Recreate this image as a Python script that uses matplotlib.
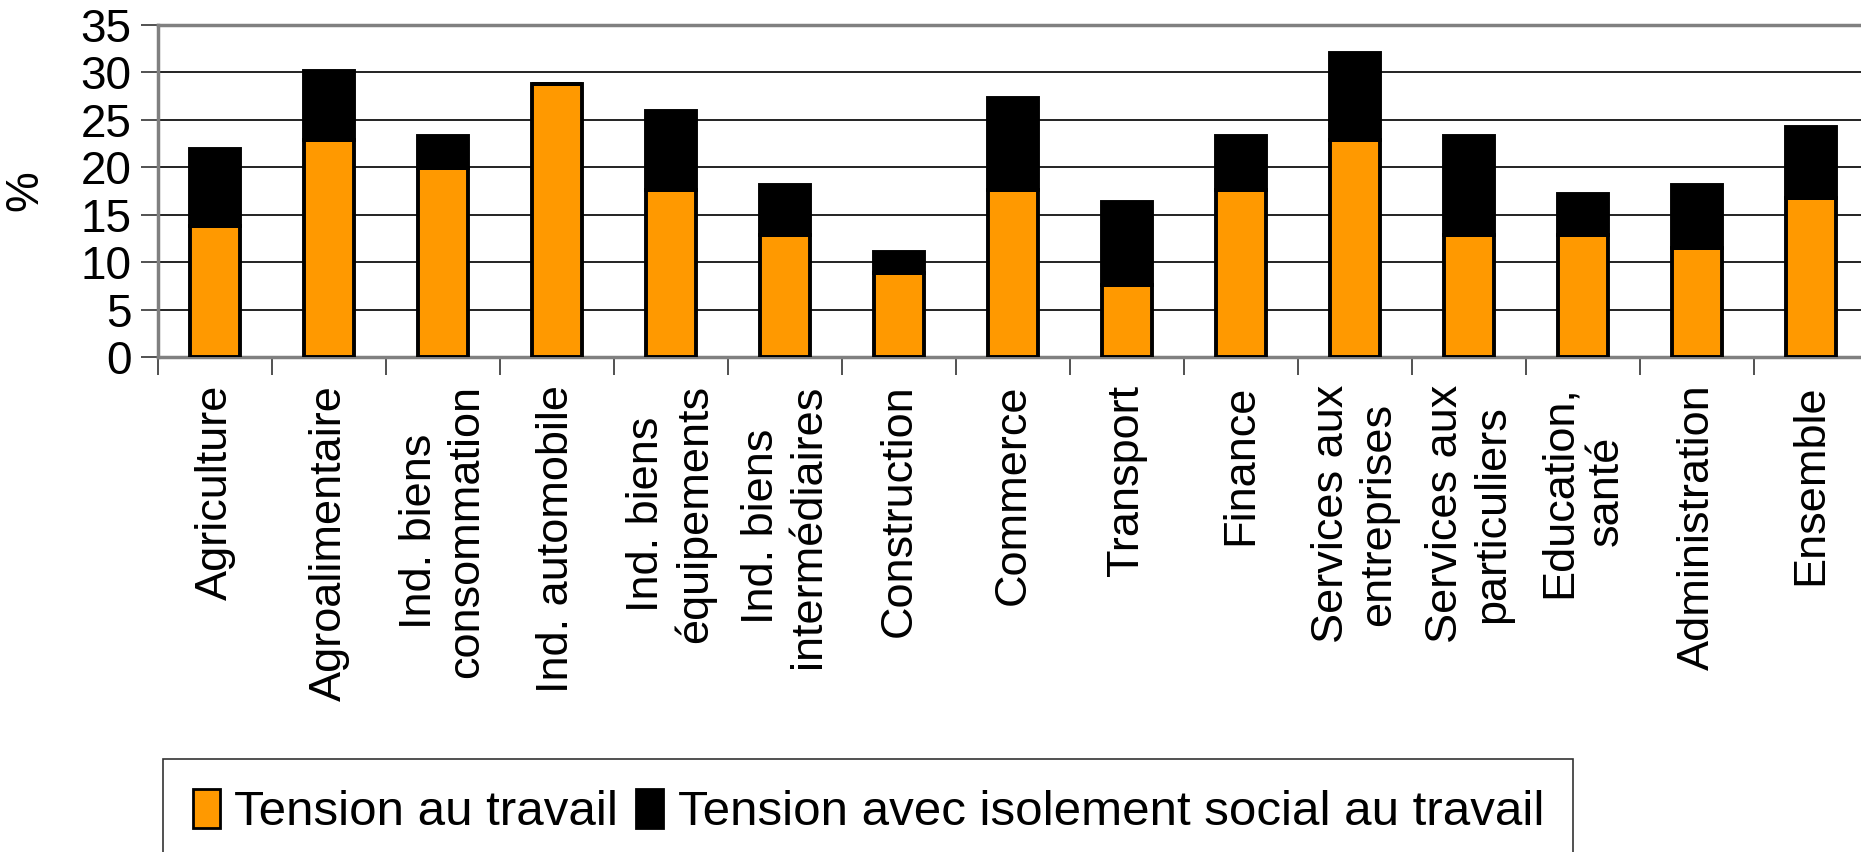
import matplotlib
matplotlib.use("Agg")
import matplotlib.pyplot as plt
from matplotlib.patches import Patch
import numpy as np

categories = ["Agriculture", "Agroalimentaire", "Ind. biens\nconsommation", "Ind. automobile",
              "Ind. biens\néquipements", "Ind. biens\nintermédiaires", "Construction", "Commerce",
              "Transport", "Finance", "Services aux\nentreprises", "Services aux\nparticuliers",
              "Education,\nsanté", "Administration", "Ensemble"]
tension = [13.8, 22.9, 19.9, 28.8, 17.6, 12.9, 8.9, 17.6, 7.6, 17.6, 22.9, 12.9, 12.9, 11.5, 16.8]
isolement = [8.1, 7.3, 3.4, 0.0, 8.3, 5.2, 2.2, 9.7, 8.7, 5.7, 9.1, 10.4, 4.3, 6.6, 7.4]
yticks = [0, 5, 10, 15, 20, 25, 30, 35]
series_names = ["Tension au travail", "Tension avec isolement social au travail"]

plt.rcParams['font.family'] = ['Liberation Sans', 'DejaVu Sans']

W, H = 1861, 852
fig = plt.figure(figsize=(W / 100, H / 100), dpi=100)
left, right, top, bottom = 158, 1868, 25, 357
ax = fig.add_axes([left / W, 1 - bottom / H, (right - left) / W, (bottom - top) / H])

x = np.arange(len(categories))
bw = 0.43
ax.bar(x, tension, width=bw, color="#FF9900", edgecolor="black", linewidth=2.8, zorder=3)
ax.bar(x, isolement, width=bw, bottom=tension, color="black", edgecolor="black", linewidth=2.8, zorder=3)

ax.set_xlim(-0.5, len(categories) - 0.5)
ax.set_ylim(0, 35)
ax.set_yticks(yticks)
ax.set_yticklabels([str(v) for v in yticks], fontsize=33)
ax.yaxis.grid(True, color="#222222", linewidth=1.4, zorder=0)
ax.set_axisbelow(True)

ax.set_xticks(np.arange(len(categories) + 1) - 0.5)
ax.set_xticklabels([])
ax.set_xticks(x, minor=True)
ax.set_xticklabels(categories, minor=True, rotation=90, fontsize=32.5, ha="center", va="top",
                   multialignment="center")
ax.tick_params(axis="x", which="major", length=13, width=1.2, color="#333333", direction="out")
ax.tick_params(axis="x", which="minor", length=0, pad=20)
ax.tick_params(axis="y", length=12, width=1.2, color="#333333", pad=7)

for s in ["top", "left", "bottom", "right"]:
    ax.spines[s].set_color("#808080")
    ax.spines[s].set_linewidth(2.5)

fig.text(25 / W, 1 - 191 / H, "%", rotation=90, fontsize=33, ha="center", va="center")

handles = [Patch(facecolor="#FF9900", edgecolor="black", linewidth=2),
           Patch(facecolor="black", edgecolor="black", linewidth=2)]
leg = fig.legend(handles, series_names, loc="upper left", bbox_to_anchor=(163 / W, 1 - 759 / H),
                 ncol=2, fontsize=35.5, frameon=True, fancybox=False, edgecolor="black",
                 handlelength=0.55, handleheight=0.85, handletextpad=0.3, columnspacing=0.35,
                 borderpad=0.6, borderaxespad=0)
leg.get_frame().set_linewidth(1.2)

fig.savefig("out.png", dpi=100)
